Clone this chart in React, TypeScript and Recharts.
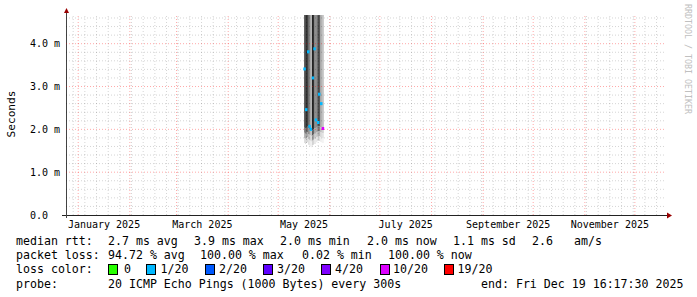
import React from 'react';
import * as R from 'recharts';
import { ComposedChart, Area, XAxis, YAxis, ReferenceLine, Scatter } from 'recharts';

// ---- time frame (days from graph start) ----
const END_MS = Date.UTC(2025, 11, 19, 16, 17, 30);
const SPAN_DAYS = 360;
const START_MS = END_MS - SPAN_DAYS * 86400000;
const dayOf = (y: number, m: number, d: number) => (Date.UTC(y, m, d) - START_MS) / 86400000;

const monthIdx = [0, 1, 2, 3, 4, 5, 6, 7, 8, 9, 10, 11];
const labelMonthIdx = [0, 2, 4, 6, 8, 10];
const labelNames = ['January 2025', 'March 2025', 'May 2025', 'July 2025', 'September 2025', 'November 2025'];

const monthLines = monthIdx.map((m) => dayOf(2025, m, 1));
const labelTicks = labelMonthIdx.map((m) => (dayOf(2025, m, 1) + dayOf(2025, m + 1, 1)) / 2);
const weekLines: number[] = [];
for (let d = dayOf(2024, 11, 29); d < SPAN_DAYS; d += 7) weekLines.push(d);

// ---- y grid ----
const yTicks = [0, 1, 2, 3, 4];
const yMajor = [1, 2, 3, 4];
const yMinor = [0.2, 0.4, 0.6, 0.8, 1.2, 1.4, 1.6, 1.8, 2.2, 2.4, 2.6, 2.8, 3.2, 3.4, 3.6, 3.8, 4.2, 4.4, 4.6];
const Y_MAX = 4.67;

// ---- smoke columns (start day, ms values) ----
const SMOKE_STEP = 0.6;
const smokeDay = [142.8, 143.4, 144.0, 144.6, 145.2, 145.8, 146.4, 147.0, 147.6, 148.2, 148.8, 149.4, 150.0, 150.6, 151.2, 151.8, 152.4, 153.0, 153.6, 154.2];
const smokeLow = [1.68, 1.66, 1.68, 1.7, 1.64, 1.62, 1.6, 1.58, 1.62, 1.64, 1.66, 1.66, 1.7, 1.72, 1.73, 1.73, 1.71, 1.7, 1.68, 1.68];
const smokeFade = [0.36, 0.36, 0.36, 0.36, 0.38, 0.38, 0.4, 0.4, 0.36, 0.36, 0.36, 0.36, 0.34, 0.34, 0.34, 0.34, 0.34, 0.34, 0.34, 0.34];
const smokeHigh = [6, 6, 6, 6, 6, 6, 6, 6, 6, 6, 6, 6, 6, 6, 6, 6, 6, 6, 6, 6];
const smokeDensity = [0.62, 0.7, 0.8, 0.74, 0.58, 0.5, 0.34, 0.3, 0.86, 0.8, 0.48, 0.44, 0.46, 0.56, 0.7, 0.66, 0.34, 0.3, 0.24, 0.2];

// ---- median rtt (ms) and loss ----
const medDay = [143.0, 144.0, 145.2, 146.0, 146.8, 148.0, 149.0, 149.8, 151.2, 151.8, 153.0, 154.0];
const medRtt = [3.41, 2.46, 3.81, 2.07, 2.0, 3.2, 3.88, 2.22, 2.16, 2.82, 2.6, 2.02];
const medLoss = [1, 1, 1, 1, 1, 1, 1, 1, 1, 1, 1, 10];

const lossLabels = ['0', '1/20', '2/20', '3/20', '4/20', '10/20', '19/20'];
const lossSteps = [0, 1, 2, 3, 4, 10, 19];
const lossColors = ['#26ff00', '#00b8ff', '#0059ff', '#5e00ff', '#7e00ff', '#dd00ff', '#ff0000'];

const lossColor = (l: number) => {
  let c = lossColors[0];
  lossSteps.forEach((s, i) => {
    if (l >= s) c = lossColors[i];
  });
  return c;
};

const gray = (density: number, toWhite: number) => {
  const base = 255 * (1 - density);
  const v = Math.round(base + (255 - base) * toWhite);
  return `rgb(${v},${v},${v})`;
};

// layers of each smoke column: [fraction-of-fade start, end, whitening]
const fadeLayers = [
  [0, 1 / 3, 0.8],
  [1 / 3, 2 / 3, 0.55],
  [2 / 3, 1, 0.25],
];

type Band = { key: string; data: { day: number; v: [number, number] }[]; fill: string };
const smokeBands: Band[] = [];
smokeDay.forEach((d, i) => {
  const lo = smokeLow[i];
  const fd = smokeFade[i];
  const days = [d, d + SMOKE_STEP];
  fadeLayers.forEach(([a, b, w], j) => {
    const r: [number, number] = [lo + fd * a, lo + fd * b];
    smokeBands.push({
      key: `f${i}_${j}`,
      data: days.map((day) => ({ day, v: r })),
      fill: gray(smokeDensity[i], w),
    });
  });
  const rm: [number, number] = [lo + fd, smokeHigh[i]];
  smokeBands.push({
    key: `m${i}`,
    data: days.map((day) => ({ day, v: rm })),
    fill: gray(smokeDensity[i], 0),
  });
});

const medData = medDay.map((d, i) => ({ day: d, rtt: medRtt[i], color: lossColor(medLoss[i]) }));

const MONO = '"DejaVu Sans Mono", monospace';
const GRID_MINOR = 'rgba(0,0,0,0.17)';
const GRID_MAJOR = 'rgba(255,0,0,0.34)';

const plotHook: any = (R as any).usePlotArea || (R as any).useOffset;

function Axes() {
  const pa: any = plotHook ? plotHook() : null;
  if (!pa) return null;
  const x = pa.x ?? pa.left;
  const y = pa.y ?? pa.top;
  const w = pa.width ?? 600;
  const h = pa.height ?? 200;
  const b = y + h;
  return (
    <g>
      <line x1={x - 4} y1={b + 0.5} x2={x + w + 1} y2={b + 0.5} stroke="#222" strokeWidth={1} />
      <line x1={x + 0.5} y1={b + 3} x2={x + 0.5} y2={y - 3} stroke="#444" strokeWidth={1} />
      <polygon points={`${x + w + 1},${b - 2.5} ${x + w + 6},${b + 0.5} ${x + w + 1},${b + 3.5}`} fill="#990000" />
      <polygon points={`${x - 2},${y - 2} ${x + 0.5},${y - 7} ${x + 3},${y - 2}`} fill="#990000" />
    </g>
  );
}

const XTick = (props: any) => {
  const { x, y, index } = props;
  return (
    <text x={x} y={y + 13} textAnchor="middle" fontFamily={MONO} fontSize={10} fill="#000">
      {labelNames[index] ?? ''}
    </text>
  );
};

const YTick = (props: any) => {
  const { x, y, payload } = props;
  const v = payload.value as number;
  const s = v === 0 ? '0.0\u00a0\u00a0' : `${v.toFixed(1)} m`;
  return (
    <text x={x} y={y + 3.5} textAnchor="end" fontFamily={MONO} fontSize={10} fill="#000">
      {s}
    </text>
  );
};

const MedShape = (props: any) => {
  const { cx, cy, payload } = props;
  if (cx == null || cy == null) return null;
  return <rect x={cx - 1} y={cy - 1.5} width={2.5} height={3} fill={payload.color} />;
};

const legendStyle: React.CSSProperties = {
  position: 'absolute',
  fontFamily: MONO,
  fontSize: 11.6,
  color: '#000',
  whiteSpace: 'pre',
  lineHeight: '14px',
};

const seg = (left: number, top: number, text: string, key: string) => (
  <div key={key} style={{ ...legendStyle, left, top }}>
    {text}
  </div>
);

export default function App() {
  const rowTop = [234, 248, 262, 277];
  const lossBoxX = [108, 146, 204.5, 263, 321, 379.5, 444];
  const lossTextX = [124, 160.5, 219, 277, 335, 393, 457.5];
  return (
    <div style={{ position: 'absolute', left: 0, top: 0, width: 697, height: 297, background: '#fff', overflow: 'hidden' }}>
      <ComposedChart width={697} height={230} margin={{ top: 15, right: 31, left: 0, bottom: 0 }}>
        <XAxis
          dataKey="day"
          type="number"
          domain={[0, SPAN_DAYS]}
          ticks={labelTicks}
          allowDataOverflow
          axisLine={false}
          tickLine={false}
          tickSize={0}
          tickMargin={0}
          height={15}
          tick={<XTick />}
          interval={0}
        />
        <YAxis
          type="number"
          domain={[0, Y_MAX]}
          ticks={yTicks}
          allowDataOverflow
          axisLine={false}
          tickLine={false}
          tickSize={0}
          tickMargin={6}
          width={66}
          tick={<YTick />}
          interval={0}
        />
        {smokeBands.map((b) => (
          <Area
            key={b.key}
            data={b.data}
            dataKey="v"
            type="linear"
            stroke="none"
            fill={b.fill}
            fillOpacity={1}
            isAnimationActive={false}
            dot={false}
            activeDot={false}
          />
        ))}
        {yMinor.map((v) => (
          <ReferenceLine key={'ym' + v} y={v} stroke={GRID_MINOR} strokeDasharray="1 2" ifOverflow="hidden" />
        ))}
        {weekLines.map((v) => (
          <ReferenceLine key={'wk' + v} x={v} stroke={GRID_MINOR} strokeDasharray="1 2" ifOverflow="hidden" />
        ))}
        {yMajor.map((v) => (
          <ReferenceLine key={'yM' + v} y={v} stroke={GRID_MAJOR} strokeDasharray="1 2" ifOverflow="hidden" />
        ))}
        {monthLines.map((v) => (
          <ReferenceLine key={'mo' + v} x={v} stroke={GRID_MAJOR} strokeDasharray="1 2" ifOverflow="hidden" />
        ))}
        <Scatter data={medData} dataKey="rtt" shape={<MedShape />} isAnimationActive={false} />
        <Axes />
      </ComposedChart>

      <div
        style={{
          position: 'absolute',
          left: 11,
          top: 114,
          transform: 'translate(-50%, -50%) rotate(-90deg)',
          fontFamily: MONO,
          fontSize: 11.2,
          whiteSpace: 'pre',
        }}
      >
        Seconds
      </div>
      <div
        style={{
          position: 'absolute',
          left: 688,
          top: 59,
          transform: 'translate(-50%, -50%) rotate(90deg)',
          fontFamily: MONO,
          fontSize: 8.3,
          color: '#c0c0c0',
          whiteSpace: 'pre',
        }}
      >
        RRDTOOL / TOBI OETIKER
      </div>

      {seg(16, rowTop[0], 'median rtt:', 'a0')}
      {seg(108, rowTop[0], '2.7 ms avg', 'a1')}
      {seg(194, rowTop[0], '3.9 ms max', 'a2')}
      {seg(280, rowTop[0], '2.0 ms min', 'a3')}
      {seg(367, rowTop[0], '2.0 ms now', 'a4')}
      {seg(453, rowTop[0], '1.1 ms sd', 'a5')}
      {seg(532, rowTop[0], '2.6', 'a6')}
      {seg(574, rowTop[0], 'am/s', 'a7')}

      {seg(16, rowTop[1], 'packet loss:', 'b0')}
      {seg(108, rowTop[1], '94.72 % avg', 'b1')}
      {seg(200, rowTop[1], '100.00 % max', 'b2')}
      {seg(302, rowTop[1], '0.02 % min', 'b3')}
      {seg(388, rowTop[1], '100.00 % now', 'b4')}

      {seg(16, rowTop[2], 'loss color:', 'c0')}
      {lossLabels.map((l, i) => (
        <React.Fragment key={'lc' + i}>
          <div
            style={{
              position: 'absolute',
              left: lossBoxX[i],
              top: rowTop[2] + 2,
              width: 8,
              height: 9,
              background: lossColors[i],
              border: '1px solid #000',
            }}
          />
          {seg(lossTextX[i], rowTop[2], l, 'lt' + i)}
        </React.Fragment>
      ))}

      {seg(16, rowTop[3], 'probe:', 'd0')}
      {seg(108, rowTop[3], '20 ICMP Echo Pings (1000 Bytes) every 300s', 'd1')}
      {seg(481, rowTop[3], 'end: Fri Dec 19 16:17:30 2025', 'd2')}
    </div>
  );
}
